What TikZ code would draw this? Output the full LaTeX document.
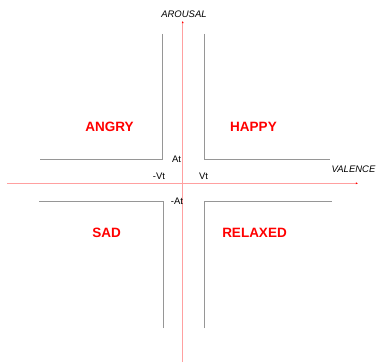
\documentclass[tikz,border=0pt]{standalone}
\usepackage{fontspec}
\setmainfont{Liberation Sans}
\usetikzlibrary{arrows.meta,positioning}
\definecolor{emored}{RGB}{255,0,0}
\definecolor{emoaxis}{RGB}{255,160,160}
\definecolor{emogray}{RGB}{150,150,150}
\tikzset{
  axisline/.style={draw=emoaxis, line width=1.1pt, -{Latex[length=2.2pt,width=2.2pt,color=emored]}},
  quadline/.style={draw=emogray, line width=1.1pt},
  moodlabel/.style={text=emored, inner sep=0pt, font=\fontsize{13.5}{14}\selectfont\bfseries},
  axislabel/.style={inner sep=0pt, font=\fontsize{9.5}{10}\selectfont\itshape},
  threshlabel/.style={inner sep=0pt, font=\fontsize{9.5}{10}\selectfont}
}
\begin{document}
\begin{tikzpicture}[x=1pt,y=-1pt]
  \useasboundingbox (0,0) rectangle (377,363);
  % axes
  \coordinate (vstart) at (7,183.3);
  \coordinate (vend) at (358,183.3);
  \coordinate (astart) at (182.7,362);
  \coordinate (aend) at (182.7,21);
  \draw[axisline] (vstart) -- (vend);
  \draw[axisline] (astart) -- (aend);
  \node[axislabel] (arousal) at (184,14.7) {AROUSAL};
  \node[axislabel] (valence) at (353.5,169) {VALENCE};
  % quadrant borders
  \coordinate (angrytop) at (162.3,34);
  \coordinate (angryend) at (40.3,159.7);
  \coordinate (happytop) at (204.3,34);
  \coordinate (happyend) at (330,159.7);
  \coordinate (sadbot) at (163.7,328);
  \coordinate (sadend) at (39,201.7);
  \coordinate (relaxbot) at (204.7,328);
  \coordinate (relaxend) at (331.7,201.7);
  \draw[quadline] (angrytop) |- (angryend);
  \draw[quadline] (happytop) |- (happyend);
  \draw[quadline] (sadbot) |- (sadend);
  \draw[quadline] (relaxbot) |- (relaxend);
  % moods
  \node[moodlabel] (angry) at (109.5,127.3) {ANGRY};
  \node[moodlabel] (happy) at (253.5,127.3) {HAPPY};
  \node[moodlabel] (sad) at (106.5,233) {SAD};
  \node[moodlabel] (relaxed) at (254.5,233) {RELAXED};
  % thresholds
  \node[threshlabel] (at) at (176.5,159) {At};
  \node[threshlabel] (negvt) at (159,176) {-Vt};
  \node[threshlabel] (vt) at (203.5,176) {Vt};
  \node[threshlabel] (negat) at (177,201.7) {-At};
\end{tikzpicture}
\end{document}
